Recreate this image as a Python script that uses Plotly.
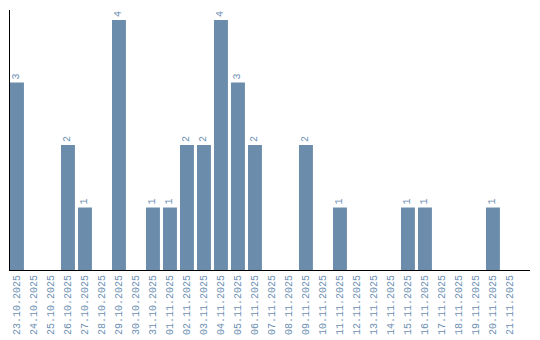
import plotly.graph_objects as go

dates = ["23.10.2025","24.10.2025","25.10.2025","26.10.2025","27.10.2025","28.10.2025","29.10.2025","30.10.2025","31.10.2025",
         "01.11.2025","02.11.2025","03.11.2025","04.11.2025","05.11.2025","06.11.2025","07.11.2025","08.11.2025","09.11.2025",
         "10.11.2025","11.11.2025","12.11.2025","13.11.2025","14.11.2025","15.11.2025","16.11.2025","17.11.2025","18.11.2025",
         "19.11.2025","20.11.2025","21.11.2025"]
counts = [3,0,0,2,1,0,4,0,1,1,2,2,4,3,2,0,0,2,0,1,0,0,0,1,1,0,0,0,1,0]

labels = [str(v) if v > 0 else "" for v in counts]
font = dict(color="#6d8fb3", size=10, family="Liberation Mono")

fig = go.Figure(go.Bar(
    x=dates, y=counts, text=labels, textposition="outside", textangle=-90,
    textfont=font, marker=dict(color="#6b8cab", line=dict(width=0)), cliponaxis=False,
))
fig.update_layout(
    width=540, height=340, margin=dict(l=10, r=10, t=10, b=70, autoexpand=False),
    plot_bgcolor="white", paper_bgcolor="white", bargap=0.18, showlegend=False,
)
fig.update_xaxes(type="category", range=[-0.41, 30.18], tickangle=-90, tickfont=font, automargin=False,
                 showline=True, linecolor="black", linewidth=1, ticks="", showgrid=False)
fig.update_yaxes(range=[0, 4.16], showline=True, linecolor="black", linewidth=1, showticklabels=False,
                 automargin=False, ticks="", showgrid=False, zeroline=False)
fig.write_html("out.html")
